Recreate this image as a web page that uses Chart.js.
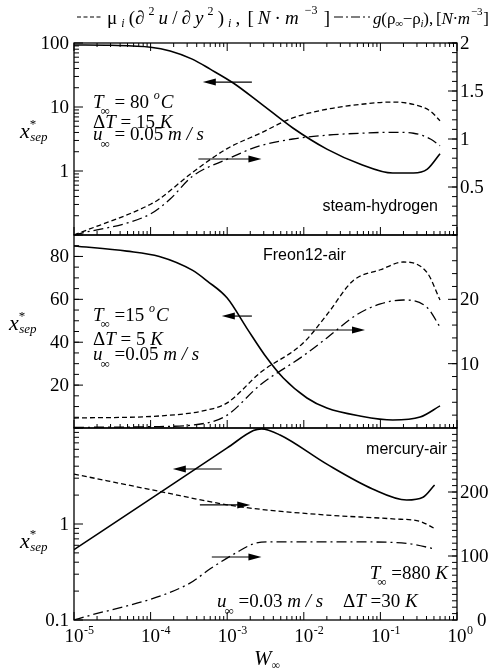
<!DOCTYPE html>
<html lang="en">
<head>
<meta charset="UTF-8" />
<script src="https://cdn.jsdelivr.net/npm/chart.js@4.4.0/dist/chart.umd.min.js"></script>
<style>
  body { margin: 0; background: #fff; }
  #wrap { position: relative; width: 495px; height: 672px; background: #fff; overflow: hidden; }
  #wrap canvas { position: absolute; left: 0; top: 0; }
  .preload { position: absolute; left: -9999px; top: 0; font-size: 19px; }
</style>
<title>x*sep vs W</title>
</head>
<body>
<div id="wrap">
  <canvas id="c1" width="495" height="672"></canvas>
  <canvas id="c2" width="495" height="672"></canvas>
  <canvas id="c3" width="495" height="672"></canvas>
</div>
<span class="preload" style="font-family:'Liberation Serif'">10 T</span>
<span class="preload" style="font-family:'Liberation Serif';font-style:italic">T u</span>
<span class="preload" style="font-family:'Liberation Sans'">air</span>
<script>
// ---- steam-hydrogen ----
const steamSepW   = [1e-5, 3e-5, 1e-4, 1.8e-4, 3.5e-4, 6e-4, 1.2e-3, 2.7e-3, 7.2e-3, 0.02, 0.054, 0.145, 0.27, 0.41, 0.6];
const steamSep    = [93, 92, 86, 75, 56, 39, 23.7, 11.5, 4.7, 2.2, 1.29, 0.93, 0.93, 1.07, 1.86];
const steamViscW  = [1e-5, 1e-4, 1.3e-4, 3.5e-4, 1e-3, 2.7e-3, 7.2e-3, 0.02, 0.054, 0.145, 0.27, 0.45, 0.6];
const steamVisc   = [0.0, 0.32, 0.375, 0.65, 0.9, 1.06, 1.22, 1.31, 1.36, 1.385, 1.36, 1.29, 1.19];
const steamBuoyW  = [1e-5, 1e-4, 1.8e-4, 3.5e-4, 1e-3, 2.7e-3, 7.2e-3, 0.02, 0.054, 0.145, 0.27, 0.45, 0.6];
const steamBuoy   = [0.0, 0.22, 0.375, 0.61, 0.79, 0.93, 1.0, 1.04, 1.06, 1.07, 1.06, 1.0, 0.93];

// ---- Freon12-air ----
const freonSepW   = [1e-5, 4.9e-5, 1.3e-4, 3.5e-4, 5.5e-4, 1e-3, 1.8e-3, 3.3e-3, 5.4e-3, 0.011, 0.02, 0.054, 0.145, 0.33, 0.6];
const freonSep    = [84.9, 82.5, 80, 73.6, 68.5, 60.6, 46.6, 32.6, 23.3, 14, 9.3, 5.6, 3.7, 5.1, 10.3];
const freonViscW  = [1e-5, 1.3e-4, 5.5e-4, 1e-3, 2.7e-3, 9.8e-3, 0.02, 0.044, 0.1, 0.2, 0.41, 0.6];
const freonVisc   = [1.55, 1.87, 2.8, 3.9, 8.6, 13.2, 17.6, 22.9, 24.6, 25.8, 24.1, 19.9];
const freonBuoyW  = [1e-5, 1e-4, 5.5e-4, 1e-3, 2.7e-3, 9.8e-3, 0.02, 0.049, 0.1, 0.2, 0.41, 0.6];
const freonBuoy   = [0.1, 0.2, 0.8, 2.0, 6.7, 11.2, 14, 17.6, 19.3, 19.9, 18.7, 15.7];

// ---- mercury-air ----
const mercSepW    = [1e-5, 1e-4, 1e-3, 2.2e-3, 2.8e-3, 4.9e-3, 0.02, 0.079, 0.22, 0.36, 0.51];
const mercSep     = [0.54, 1.83, 6.2, 9.4, 9.8, 8.45, 4.2, 2.32, 1.78, 1.9, 2.55];
const mercViscW   = [1e-5, 1.3e-4, 1e-3, 2.7e-3, 0.02, 0.145, 0.33, 0.51];
const mercVisc    = [228, 201, 180, 173, 164, 158, 154, 143];
const mercBuoyW   = [1e-5, 3.1e-4, 6e-4, 1.35e-3, 2.2e-3, 3.3e-3, 0.054, 0.245, 0.51];
const mercBuoy    = [0, 56, 80, 106, 119, 122, 122, 119, 111];

const xDecades = [-5, -4, -3, -2, -1, 0];

const SERIF = '"Liberation Serif", "DejaVu Serif", serif';
const SANS = '"Liberation Sans", Arial, sans-serif';
const PLOT_LEFT = 74, PLOT_RIGHT = 457;

const pts = (xs, ys) => xs.map((x, i) => ({ x, y: ys[i] }));

function solid(xs, ys) {
  return { data: pts(xs, ys), yAxisID: 'yl', borderColor: '#000', borderWidth: 1.6 };
}
function dashed(xs, ys) {
  return { data: pts(xs, ys), yAxisID: 'yr', borderColor: '#000', borderWidth: 1.3, borderDash: [5, 3] };
}
function dashDot(xs, ys) {
  return { data: pts(xs, ys), yAxisID: 'yr', borderColor: '#000', borderWidth: 1.3, borderDash: [10, 4, 2, 4] };
}

function logMinors(lo, hi) {
  const out = [];
  for (let d = lo; d < hi; d++) for (let k = 2; k <= 9; k++) out.push(k * Math.pow(10, d));
  return out;
}
function steps(lo, hi, step) {
  const out = [];
  for (let v = lo; v <= hi + 1e-9; v += step) out.push(+v.toFixed(6));
  return out;
}

// text made of runs: [text, size, style, dx, dy, family]
// when fitW is given, the gaps between runs are stretched so the whole line is fitW wide
function runs(ctx, x, y, parts, align, fitW) {
  const fontOf = p => `${p[2] || 'normal'} ${p[1]}px ${p[5] || SERIF}`;
  let w = 0;
  parts.forEach(p => { ctx.font = fontOf(p); w += ctx.measureText(p[0]).width + (p[3] || 0); });
  const gap = fitW ? (fitW - w) / (parts.length - 1) : 0;
  if (fitW) w = fitW;
  let cx = align === 'right' ? x - w : align === 'center' ? x - w / 2 : x;
  ctx.textBaseline = 'alphabetic';
  ctx.textAlign = 'left';
  parts.forEach((p, i) => {
    ctx.font = fontOf(p);
    cx += (p[3] || 0) + (i ? gap : 0);
    ctx.fillText(p[0], cx, y + (p[4] || 0));
    cx += ctx.measureText(p[0]).width;
  });
}

function arrow(ctx, x0, x1, y) {
  const dir = Math.sign(x1 - x0);
  ctx.beginPath();
  ctx.moveTo(x0, y);
  ctx.lineTo(x1 - dir * 10, y);
  ctx.lineWidth = 1.2;
  ctx.stroke();
  ctx.beginPath();
  ctx.moveTo(x1, y);
  ctx.lineTo(x1 - dir * 13, y - 3.5);
  ctx.lineTo(x1 - dir * 13, y + 3.5);
  ctx.closePath();
  ctx.fill();
}

function ySepLabel(ctx, x, y) {
  runs(ctx, x, y, [['x', 22, 'italic'], ['*', 13, 'normal', 0, -10], ['sep', 13, 'italic', -6, 3]]);
}

function framePlugin(p) {
  return {
    id: 'frame',
    afterDatasetsDraw(chart) {
      const ctx = chart.ctx;
      const a = chart.chartArea;
      const sx = chart.scales.x, yl = chart.scales.yl, yr = chart.scales.yr;
      ctx.save();
      ctx.strokeStyle = '#000';
      ctx.fillStyle = '#000';
      ctx.lineWidth = 1.3;
      ctx.strokeRect(a.left, a.top, a.right - a.left, a.bottom - a.top);

      ctx.lineWidth = 1;
      ctx.beginPath();
      // x ticks along the bottom (and the top for the first panel)
      const xMaj = xDecades.map(d => Math.pow(10, d));
      const xMin = logMinors(-5, 0);
      const edges = p.topTicks ? [[a.bottom, -1], [a.top, 1]] : [[a.bottom, -1]];
      edges.forEach(([y, dir]) => {
        xMaj.forEach(v => { const X = sx.getPixelForValue(v); ctx.moveTo(X, y); ctx.lineTo(X, y + dir * 8); });
        xMin.forEach(v => { const X = sx.getPixelForValue(v); ctx.moveTo(X, y); ctx.lineTo(X, y + dir * 4); });
      });
      // y ticks, inward on both sides
      p.left.major.forEach(v => { const Y = yl.getPixelForValue(v); ctx.moveTo(a.left, Y); ctx.lineTo(a.left + 9, Y); });
      p.left.minor.forEach(v => { const Y = yl.getPixelForValue(v); ctx.moveTo(a.left, Y); ctx.lineTo(a.left + 5, Y); });
      p.right.major.forEach(v => { const Y = yr.getPixelForValue(v); ctx.moveTo(a.right, Y); ctx.lineTo(a.right - 9, Y); });
      p.right.minor.forEach(v => { const Y = yr.getPixelForValue(v); ctx.moveTo(a.right, Y); ctx.lineTo(a.right - 5, Y); });
      ctx.stroke();

      // tick labels
      ctx.font = `normal 19px ${SERIF}`;
      ctx.textBaseline = 'middle';
      ctx.textAlign = 'right';
      p.left.labels.forEach(([v, t]) => ctx.fillText(t, a.left - 5, yl.getPixelForValue(v) + 1));
      ctx.textAlign = 'left';
      p.right.labels.forEach(([v, t, dx]) => ctx.fillText(t, a.right + 3 + (dx || 0), yr.getPixelForValue(v) + 1));

      if (p.xLabels) {
        xDecades.forEach(d => {
          const X = sx.getPixelForValue(Math.pow(10, d));
          ctx.font = `normal 19px ${SERIF}`;
          const w = ctx.measureText('10').width;
          runs(ctx, X - w / 2, a.bottom + 22, [['10', 19], [String(d), 12, 'normal', 0.5, -8]]);
        });
        runs(ctx, 267, a.bottom + 45, [['W', 21, 'italic'], ['\u221e', 12, 'normal', 0, 4]], 'center');
      }

      ySepLabel(ctx, p.yLabel[0], p.yLabel[1]);

      // arrows in axis units (left axis for y)
      p.arrows.forEach(([w0, w1, v]) => {
        arrow(ctx, sx.getPixelForValue(w0), sx.getPixelForValue(w1), yl.getPixelForValue(v));
      });

      p.texts(ctx, a);
      ctx.restore();
    }
  };
}

// legend line at the very top, drawn on the first canvas
const legendPlugin = {
  id: 'topLegend',
  afterDraw(chart) {
    const ctx = chart.ctx;
    ctx.save();
    ctx.strokeStyle = '#000';
    ctx.fillStyle = '#000';
    ctx.lineWidth = 1.2;
    ctx.setLineDash([4, 2.5]);
    ctx.beginPath(); ctx.moveTo(77, 17); ctx.lineTo(103, 17); ctx.stroke();
    ctx.setLineDash([9, 3, 2, 3]);
    ctx.beginPath(); ctx.moveTo(334, 17); ctx.lineTo(370, 17); ctx.stroke();
    ctx.setLineDash([]);
    const e = 12;
    runs(ctx, 107, 24, [
      ['\u03bc', 19], ['i', e, 'italic', 0, 3], ['(\u2202', 19], ['2', e, 'normal', 0, -9], ['u', 19, 'italic'],
      ['/', 19], ['\u2202', 19], ['y', 19, 'italic'], ['2', e, 'normal', 0, -9], [')', 19], ['i', e, 'italic', 0, 3],
      [',', 19], ['[', 19, 'normal', 3], ['N', 19, 'italic'], ['\u00b7', 19], ['m', 19, 'italic'], ['\u22123', e, 'normal', 2, -10], [']', 19, 'normal', 2]
    ], 'left', 223);
    runs(ctx, 373, 24, [
      ['g', 17, 'italic'], ['(\u03c1', 17], ['\u221e', 11, 'normal', 0, 3], ['\u2212\u03c1', 17], ['i', 11, 'italic', 0, 3],
      ['),', 17], ['[', 17, 'normal', 3], ['N', 17, 'italic'], ['\u00b7', 17], ['m', 17, 'italic'], ['\u22123', 11, 'normal', 1, -9], [']', 17, 'normal', 1]
    ], 'left', 116);
    ctx.restore();
  }
};

function makeChart(id, p, extra) {
  return new Chart(document.getElementById(id), {
    type: 'line',
    data: { datasets: p.datasets },
    options: {
      responsive: false,
      animation: false,
      layout: { padding: { left: PLOT_LEFT, right: 495 - PLOT_RIGHT, top: p.top, bottom: 672 - p.bottom } },
      plugins: { legend: { display: false }, tooltip: { enabled: false } },
      elements: { point: { radius: 0 }, line: { cubicInterpolationMode: 'monotone' } },
      scales: {
        x: { type: 'logarithmic', min: 1e-5, max: 1, display: false },
        yl: Object.assign({ position: 'left', display: false }, p.yl),
        yr: Object.assign({ position: 'right', display: false }, p.yr)
      }
    },
    plugins: [framePlugin(p)].concat(extra || [])
  });
}

const T = 19, SUB = 13;

function drawAll() {
  makeChart('c1', {
    top: 43, bottom: 235, topTicks: true,
    datasets: [solid(steamSepW, steamSep), dashed(steamViscW, steamVisc), dashDot(steamBuoyW, steamBuoy)],
    yl: { type: 'logarithmic', min: 0.1, max: 100 },
    yr: { type: 'linear', min: 0, max: 2 },
    left: { major: [0.1, 1, 10, 100], minor: logMinors(-1, 2), labels: [[100, '100'], [10, '10'], [1, '1']] },
    right: { major: [0.5, 1, 1.5, 2], minor: steps(0, 2, 0.1), labels: [[2, '2'], [1.5, '1.5'], [1, '1'], [0.5, '0.5']] },
    yLabel: [20, 138],
    arrows: [[2.1e-3, 4.8e-4, 24.5], [4.2e-4, 2.8e-3, 1.54]],
    texts(ctx) {
      runs(ctx, 93, 108, [['T', T, 'italic'], ['\u221e', SUB, 'normal', -3, 7], [' = 80 ', T], ['o', 12, 'italic', 0, -9], ['C', T, 'italic', 1]]);
      runs(ctx, 93, 128, [['\u0394', T], ['T', T, 'italic'], [' = 15 ', T], ['K', T, 'italic']]);
      runs(ctx, 93, 140, [['u', T, 'italic'], ['\u221e', SUB, 'normal', -2, 8], [' = 0.05 ', T], ['m / s', T, 'italic']]);
      ctx.font = `normal 16px ${SANS}`;
      ctx.textAlign = 'right';
      ctx.textBaseline = 'alphabetic';
      ctx.fillText('steam-hydrogen', 438, 211);
    }
  }, [legendPlugin]);

  makeChart('c2', {
    top: 235, bottom: 428,
    datasets: [solid(freonSepW, freonSep), dashed(freonViscW, freonVisc), dashDot(freonBuoyW, freonBuoy)],
    yl: { type: 'linear', min: 0, max: 90 },
    yr: { type: 'linear', min: 0, max: 30 },
    left: { major: [20, 40, 60, 80], minor: steps(0, 90, 5), labels: [[80, '80'], [60, '60'], [40, '40'], [20, '20']] },
    right: { major: [10, 20], minor: steps(0, 30, 2), labels: [[20, '20'], [10, '10']] },
    yLabel: [9, 330],
    arrows: [[2.1e-3, 8.5e-4, 52.2], [9.8e-3, 6.3e-2, 45.7]],
    texts(ctx) {
      runs(ctx, 93, 321, [['T', T, 'italic'], ['\u221e', SUB, 'normal', -3, 7], [' =15 ', T], ['o', 12, 'italic', 0, -9], ['C', T, 'italic', 1]]);
      runs(ctx, 93, 345, [['\u0394', T], ['T', T, 'italic'], [' = 5 ', T], ['K', T, 'italic']]);
      runs(ctx, 93, 360, [['u', T, 'italic'], ['\u221e', SUB, 'normal', -2, 8], [' =0.05 ', T], ['m / s', T, 'italic']]);
      ctx.font = `normal 16px ${SANS}`;
      ctx.textAlign = 'left';
      ctx.textBaseline = 'alphabetic';
      ctx.fillText('Freon12-air', 263, 260);
    }
  });

  makeChart('c3', {
    top: 428, bottom: 620, xLabels: true,
    datasets: [solid(mercSepW, mercSep), dashed(mercViscW, mercVisc), dashDot(mercBuoyW, mercBuoy)],
    yl: { type: 'logarithmic', min: 0.1, max: 10 },
    yr: { type: 'linear', min: 0, max: 300 },
    left: { major: [0.1, 1, 10], minor: logMinors(-1, 1), labels: [[1, '1'], [0.1, '0.1']] },
    right: { major: [100, 200], minor: steps(0, 300, 10), labels: [[200, '200'], [100, '100'], [0, '0', 17]] },
    yLabel: [20, 548],
    arrows: [[8.5e-4, 1.95e-4, 3.74], [4.4e-4, 2e-3, 1.58], [6.3e-4, 2.8e-3, 0.453]],
    texts(ctx) {
      runs(ctx, 448, 579, [['T', T, 'italic'], ['\u221e', SUB, 'normal', -3, 7], [' =880 ', T], ['K', T, 'italic']], 'right');
      runs(ctx, 217, 607, [['u', T, 'italic'], ['\u221e', SUB, 'normal', -2, 8], [' =0.03 ', T], ['m / s', T, 'italic']]);
      runs(ctx, 343, 607, [['\u0394', T], ['T', T, 'italic'], [' =30 ', T], ['K', T, 'italic']]);
      ctx.font = `normal 16px ${SANS}`;
      ctx.textAlign = 'right';
      ctx.textBaseline = 'alphabetic';
      ctx.fillText('mercury-air', 447, 454);
    }
  });
}

Promise.all([
  document.fonts.load(`normal 19px ${SERIF}`),
  document.fonts.load(`italic 19px ${SERIF}`),
  document.fonts.load(`normal 16px ${SANS}`)
]).catch(() => {}).then(drawAll);
</script>
</body>
</html>
